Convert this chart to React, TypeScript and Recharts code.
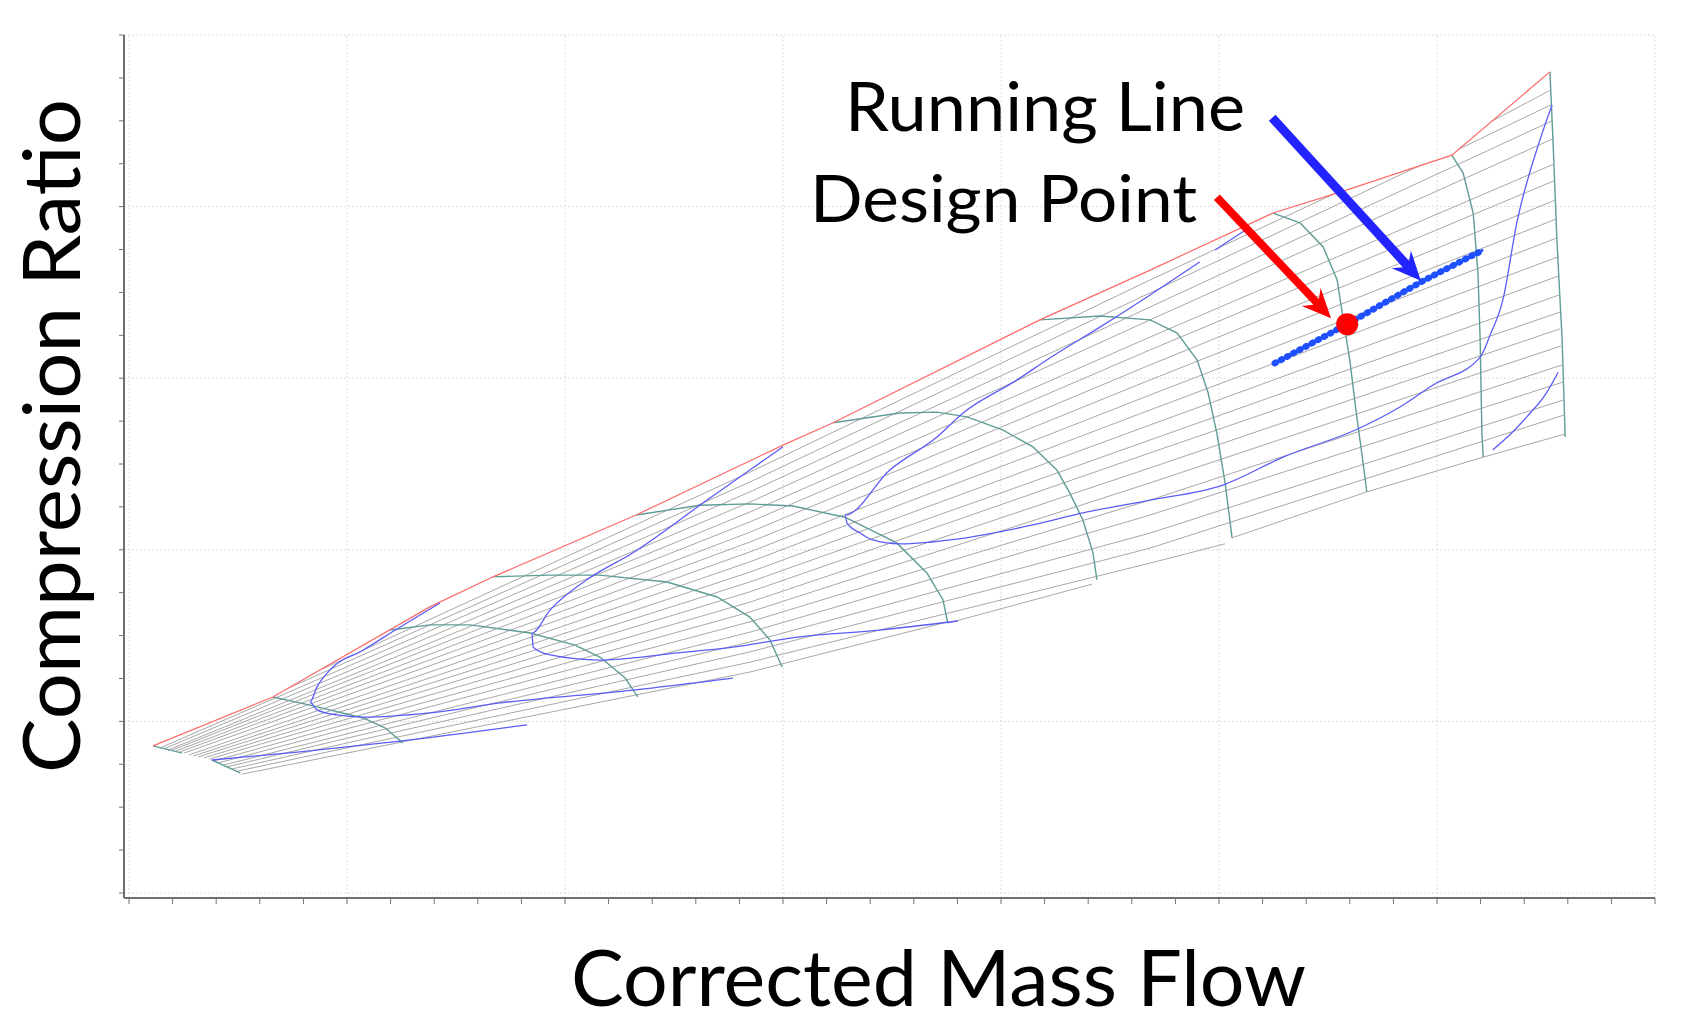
import React from 'react';
import { ComposedChart, Line, XAxis, YAxis, ReferenceLine, ReferenceDot } from 'recharts';

type Pt = [number, number];

// tick marks only, the original shows no numbers
const xTicks = [0, 1, 2, 3, 4, 5, 6, 7, 8, 9, 10, 11, 12, 13, 14, 15, 16, 17, 18, 19, 20, 21, 22, 23, 24, 25, 26, 27, 28, 29, 30, 31, 32, 33, 34, 35];
const yTicks = [0, 1, 2, 3, 4, 5, 6, 7, 8, 9, 10, 11, 12, 13, 14, 15, 16, 17, 18, 19, 20];
const xGrid = [0, 5, 10, 15, 20, 25, 30, 35];
const yGrid = [0, 4, 8, 12, 16, 20];

// surge line (red)
const surgeLine: Pt[] = [
  [0.55, 3.43], [3.3, 4.57], [6.9, 6.67], [8.35, 7.37], [11.63, 8.81], [15.0, 10.44], [16.15, 10.96],
  [20.89, 13.36], [23.42, 14.52], [26.24, 15.85], [27.94, 16.39], [30.34, 17.2], [32.59, 19.14],
];

// corrected speed lines (teal)
const speedLines: Pt[][] = [
  [[0.55, 3.43], [1.22, 3.26]],
  [[1.9, 3.1], [2.55, 2.8]],
  [[3.3, 4.57], [4.15, 4.38], [5.37, 4.08], [5.87, 3.85], [6.28, 3.5]],
  [[5.99, 6.13], [6.9, 6.25], [7.82, 6.25], [9.2, 6.06], [10.23, 5.78], [10.8, 5.5], [11.38, 5.01], [11.67, 4.57]],
  [[8.35, 7.37], [9.66, 7.41], [10.8, 7.41], [12.34, 7.25], [13.49, 6.9], [14.24, 6.43], [14.7, 5.9], [14.98, 5.27]],
  [[11.63, 8.81], [13.1, 9.04], [14.24, 9.07], [15.23, 9.02], [16.42, 8.76], [17.61, 8.16], [18.3, 7.46], [18.67, 6.83], [18.78, 6.29]],
  [[16.15, 10.96], [17.68, 11.19], [18.53, 11.21], [19.22, 11.1], [20.05, 10.79], [20.73, 10.4], [21.28, 9.86], [21.58, 9.32], [21.88, 8.69], [22.11, 7.93], [22.2, 7.3]],
  [[20.89, 13.36], [22.27, 13.45], [23.42, 13.36], [24.04, 13.05], [24.5, 12.42], [24.75, 11.66], [24.95, 10.72], [25.14, 9.56], [25.3, 8.28]],
  [[26.24, 15.85], [26.86, 15.62], [27.39, 15.06], [27.71, 14.29], [27.84, 13.43], [28.0, 12.42], [28.14, 11.26], [28.28, 10.21], [28.39, 9.35]],
  [[30.34, 17.2], [30.6, 16.78], [30.83, 15.85], [30.94, 14.45], [30.99, 12.89], [31.03, 10.72], [31.06, 10.16]],
  [[32.59, 19.14], [32.66, 17.55], [32.75, 15.22], [32.87, 12.89], [32.94, 10.63]],
];

// beta lines (grey)
const betaLines: Pt[][] = [
  [[4.43, 5.22], [14.24, 9.81], [23.42, 14.29], [27.73, 16.34]],
  [[3.62, 4.76], [14.24, 9.58], [23.42, 13.99], [29.68, 16.99]],
  [[0.71, 3.38], [14.24, 9.35], [23.42, 13.66], [32.64, 18.0]],
  [[0.8, 3.36], [14.24, 9.11], [23.42, 13.36], [32.66, 17.58]],
  [[0.89, 3.33], [14.24, 8.88], [23.42, 12.96], [32.68, 16.99]],
  [[0.99, 3.33], [14.24, 8.65], [23.42, 12.66], [32.68, 16.6]],
  [[1.08, 3.31], [14.24, 8.41], [23.42, 12.31], [32.71, 16.15]],
  [[1.17, 3.29], [14.24, 8.18], [23.42, 11.96], [32.73, 15.71]],
  [[1.26, 3.26], [14.24, 7.95], [23.42, 11.61], [32.75, 15.27]],
  [[1.38, 3.22], [14.24, 7.72], [23.42, 11.26], [32.78, 14.83]],
  [[1.47, 3.19], [14.24, 7.48], [23.42, 10.91], [32.78, 14.38]],
  [[1.58, 3.17], [14.24, 7.25], [23.42, 10.56], [32.8, 13.94]],
  [[1.72, 3.15], [14.24, 7.02], [23.42, 10.26], [32.82, 13.54]],
  [[1.83, 3.12], [14.24, 6.78], [23.42, 9.91], [32.82, 13.15]],
  [[1.95, 3.08], [14.24, 6.55], [23.42, 9.56], [32.84, 12.75]],
  [[2.04, 3.03], [14.24, 6.32], [23.42, 9.16], [32.87, 12.31]],
  [[2.16, 2.98], [14.24, 6.08], [23.42, 8.81], [32.89, 11.91]],
  [[2.25, 2.94], [14.24, 5.85], [23.42, 8.39], [32.89, 11.49]],
  [[2.36, 2.89], [14.24, 5.62], [23.42, 8.04], [32.91, 11.14]],
  [[2.48, 2.84], [14.24, 5.38], [23.42, 7.69], [25.14, 8.14]],
  [[2.59, 2.77], [14.24, 5.15], [18.78, 6.32]],
  [[25.3, 8.28], [28.39, 9.35], [31.06, 10.16], [32.94, 10.7]],
  [[18.78, 6.29], [22.09, 7.2]],
  [[30.46, 17.32], [32.61, 18.37]],
  [[31.22, 17.97], [32.61, 18.72]],
];

// efficiency contours (blue)
const efficiencyLines: Pt[][] = [
  [[1.9, 3.1], [3.92, 3.29], [6.22, 3.54], [9.13, 3.92]],
  [[7.13, 6.76], [6.22, 6.2], [5.37, 5.66], [4.61, 5.2], [4.31, 4.8], [4.15, 4.45], [4.31, 4.27], [4.77, 4.15], [5.37, 4.1], [6.9, 4.2], [8.51, 4.43], [11.56, 4.73], [13.85, 5.01]],
  [[15.0, 10.4], [14.24, 9.86], [13.26, 9.16], [11.56, 7.93], [10.5, 7.3], [9.66, 6.6], [9.24, 6.06], [9.27, 5.73], [9.66, 5.55], [10.8, 5.43], [11.56, 5.48], [12.34, 5.57], [13.85, 5.73], [15.39, 5.97], [17.22, 6.13], [19.01, 6.34]],
  [[24.56, 14.71], [23.42, 13.94], [22.27, 13.19], [21.12, 12.47], [20.37, 11.96], [19.13, 11.19], [18.53, 10.63], [17.45, 9.86], [16.42, 8.81], [16.47, 8.62], [16.77, 8.39], [17.06, 8.23], [17.68, 8.14], [18.99, 8.25], [20.73, 8.58], [21.88, 8.86], [23.42, 9.16], [25.09, 9.51], [26.47, 10.16], [28.23, 10.84], [29.15, 11.33], [29.91, 11.84], [30.99, 12.49], [31.22, 13.01], [31.51, 13.82], [31.83, 15.62], [32.36, 17.55], [32.64, 18.37]],
  [[24.91, 14.99], [25.6, 15.45]],
  [[31.28, 10.33], [31.67, 10.68], [32.06, 11.1], [32.48, 11.61], [32.78, 12.14]],
];

const runningLine: Pt[] = [[26.28, 12.35], [27.94, 13.26], [29.68, 14.27], [31.06, 14.99]];
const designPoint: Pt = [27.94, 13.26];

// annotation arrows: tail, end of shaft, tip
const redArrow: Pt[] = [[24.95, 16.22], [27.29, 13.71], [27.57, 13.4]];
const blueArrow: Pt[] = [[26.22, 18.07], [29.36, 14.58], [29.63, 14.27]];

const toRows = (pts: Pt[]) => pts.map(([x, y]) => ({ x, y }));

const axisColor = '#707070';

// ticks are drawn, labels are not
const NoLabel = () => <g />;

const arrowHead = (color: string, angle: number) => (p: any) => (
  <polygon
    points="0,0 -29,-13 -19,0 -29,13"
    transform={`translate(${p.cx},${p.cy}) rotate(${angle})`}
    fill={color}
  />
);

export default function App() {
  return (
    <div style={{ position: 'absolute', left: 0, top: 0, width: 1689, height: 1024, background: '#fff' }}>
      <ComposedChart width={1689} height={1024} margin={{ top: 35, right: 34, bottom: 96, left: 64 }}>
        <XAxis
          dataKey="x"
          type="number"
          domain={[0, 35]}
          ticks={xTicks}
          interval={0}
          tick={NoLabel}
          tickSize={6}
          height={30}
          padding={{ left: 5, right: 0 }}
          axisLine={{ stroke: axisColor, strokeWidth: 2 }}
          tickLine={{ stroke: axisColor }}
          allowDataOverflow
        />
        <YAxis
          type="number"
          domain={[0, 20]}
          ticks={yTicks}
          interval={0}
          tick={NoLabel}
          tickSize={5}
          width={60}
          padding={{ top: 0, bottom: 5 }}
          axisLine={{ stroke: axisColor, strokeWidth: 2 }}
          tickLine={{ stroke: axisColor }}
          allowDataOverflow
        />

        {xGrid.map((v) => (
          <ReferenceLine key={`gx${v}`} x={v} stroke="#dcdcdc" strokeDasharray="2 2" />
        ))}
        {yGrid.map((v) => (
          <ReferenceLine key={`gy${v}`} y={v} stroke="#dcdcdc" strokeDasharray="2 2" />
        ))}

        {betaLines.map((pts, i) => (
          <Line key={`beta${i}`} data={toRows(pts)} dataKey="y" type="linear" stroke="#9d9d9d" strokeWidth={0.9}
            dot={false} activeDot={false} isAnimationActive={false} />
        ))}
        {speedLines.map((pts, i) => (
          <Line key={`speed${i}`} data={toRows(pts)} dataKey="y" type="linear" stroke="#5f9d97" strokeWidth={1.4}
            dot={false} activeDot={false} isAnimationActive={false} />
        ))}
        <Line data={toRows(surgeLine)} dataKey="y" type="linear" stroke="#ff6a6a" strokeWidth={1.2}
          dot={false} activeDot={false} isAnimationActive={false} />
        {efficiencyLines.map((pts, i) => (
          <Line key={`eff${i}`} data={toRows(pts)} dataKey="y" type="monotone" stroke="#5c5cf7" strokeWidth={1.3}
            dot={false} activeDot={false} isAnimationActive={false} />
        ))}

        <Line data={toRows(runningLine)} dataKey="y" type="linear" stroke="#1e50ff" strokeWidth={2.5}
          dot={false} activeDot={false} isAnimationActive={false} />
        <Line data={toRows(runningLine)} dataKey="y" type="linear" stroke="#1e50ff" strokeWidth={6.5}
          strokeDasharray="1 6" strokeLinecap="round" dot={false} activeDot={false} isAnimationActive={false} />

        <ReferenceDot x={designPoint[0]} y={designPoint[1]} r={11} fill="#ff0000" stroke="none" />

        <ReferenceLine segment={[{ x: redArrow[0][0], y: redArrow[0][1] }, { x: redArrow[1][0], y: redArrow[1][1] }]}
          stroke="#ff0000" strokeWidth={8} />
        <ReferenceDot x={redArrow[2][0]} y={redArrow[2][1]} r={1} shape={arrowHead('#ff0000', 46.7)} />
        <ReferenceLine segment={[{ x: blueArrow[0][0], y: blueArrow[0][1] }, { x: blueArrow[1][0], y: blueArrow[1][1] }]}
          stroke="#2323ff" strokeWidth={9} />
        <ReferenceDot x={blueArrow[2][0]} y={blueArrow[2][1]} r={1} shape={arrowHead('#2323ff', 47.6)} />
      </ComposedChart>

      <svg width={1689} height={1024} style={{ position: 'absolute', left: 0, top: 0, pointerEvents: 'none', fontFamily: 'Lato' }}>
        <text x={845} y={131} fontSize={68} textLength={400} lengthAdjust="spacingAndGlyphs" fill="#000">Running Line</text>
        <text x={810} y={222} fontSize={66} textLength={387} lengthAdjust="spacingAndGlyphs" fill="#000">Design Point</text>
        <text x={571} y={1006} fontSize={77} textLength={735} lengthAdjust="spacingAndGlyphs" fill="#000">Corrected Mass Flow</text>
        <text transform="translate(80,773) rotate(-90)" fontSize={79} textLength={674} lengthAdjust="spacingAndGlyphs" fill="#000">Compression Ratio</text>
      </svg>
    </div>
  );
}
